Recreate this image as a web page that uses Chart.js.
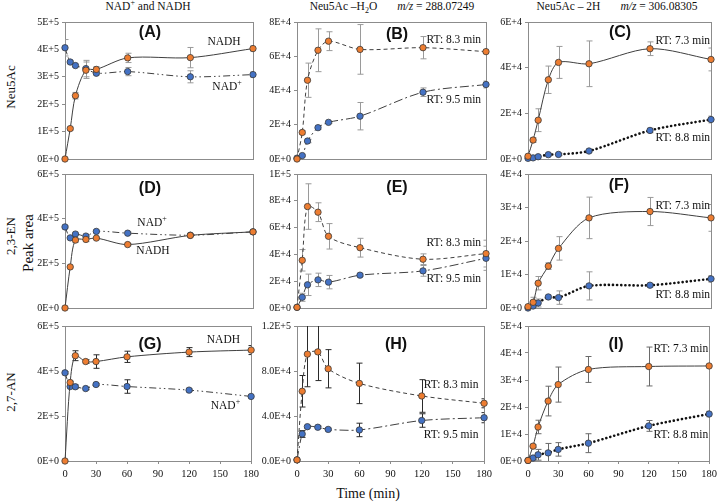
<!DOCTYPE html>
<html>
<head>
<meta charset="utf-8">
<script src="https://cdn.jsdelivr.net/npm/chart.js@4"></script>
<style>
  body { margin: 0; background: #fff; width: 720px; height: 503px; position: relative; overflow: hidden;
         font-family: "Liberation Serif", "Times New Roman", serif; color: #111; }
  .panel { position: absolute; }
  .txt { position: absolute; white-space: nowrap; }
  .coltitle { font-size: 11.5px; top: 0; transform: translateX(-50%); }
  .rowlab { font-size: 13px; transform: translate(-50%, -50%) rotate(-90deg); }
  sup, sub { font-size: 8px; line-height: 0; }
</style>
</head>
<body>

<div class="txt coltitle" style="left:148px">NAD<sup>+</sup> and NADH</div>
<div class="txt coltitle" style="left:392px">Neu5Ac –H<sub>2</sub>O<span style="margin-left:20px"><i>m/z</i> = 288.07249</span></div>
<div class="txt coltitle" style="left:617px">Neu5Ac – 2H<span style="margin-left:20px"><i>m/z</i> = 306.08305</span></div>

<div class="txt rowlab" style="left:11px; top:87px">Neu5Ac</div>
<div class="txt rowlab" style="left:11px; top:236px">2,3-EN</div>
<div class="txt rowlab" style="left:28px; top:243px; font-size:15px">Peak area</div>
<div class="txt rowlab" style="left:11px; top:392px">2,7-AN</div>

<div class="txt" style="left:368px; top:486px; transform:translateX(-50%); font-size:14px">Time (min)</div>

<script>
const times = [0, 5, 10, 20, 30, 60, 120, 180];

// (A) Neu5Ac – NAD+ and NADH
const aNadh    = [0, 1.11e5, 2.31e5, 3.24e5, 3.27e5, 3.69e5, 3.70e5, 4.03e5];
const aNadhErr = [0, 0.05e5, 0.12e5, 0.3e5, 0.1e5, 0.17e5, 0.37e5, 0.1e5];
const aNad     = [4.06e5, 3.54e5, 3.41e5, 3.30e5, 3.13e5, 3.19e5, 3.00e5, 3.08e5];
const aNadErr  = [0.3e5, 0.05e5, 0.05e5, 0.3e5, 0.06e5, 0.15e5, 0.22e5, 0.1e5];

// (B) Neu5Ac –H2O
const bRt83    = [0, 1.55e4, 4.6e4, 6.35e4, 6.88e4, 6.4e4, 6.5e4, 6.27e4];
const bRt83Err = [0, 0.1e4, 1.0e4, 1.25e4, 0.55e4, 1.45e4, 0.65e4, 0.1e4];
const bRt95    = [0.05e4, 0.2e4, 1.05e4, 1.83e4, 2.14e4, 2.5e4, 3.9e4, 4.35e4];
const bRt95Err = [0, 0.05e4, 0.1e4, 0.1e4, 0.05e4, 0.8e4, 0.25e4, 0.2e4];

// (C) Neu5Ac – 2H
const cRt73    = [0.12e4, 0.83e4, 1.7e4, 3.47e4, 4.23e4, 4.17e4, 4.83e4, 4.36e4];
const cRt73Err = [0, 0.1e4, 0.5e4, 0.6e4, 0.7e4, 1.0e4, 0.3e4, 0.5e4];
const cRt88    = [0.03e4, 0.05e4, 0.1e4, 0.19e4, 0.2e4, 0.35e4, 1.25e4, 1.73e4];
const cRt88Err = [0, 0, 0, 0.05e4, 0.05e4, 0.05e4, 0.1e4, 0.15e4];

// (D) 2,3-EN – NAD+ and NADH
const dNadh    = [0, 1.84e5, 3.04e5, 3.07e5, 3.13e5, 2.84e5, 3.25e5, 3.41e5];
const dNadhErr = [0, 0, 0.1e5, 0.1e5, 0.05e5, 0.05e5, 0.05e5, 0.05e5];
const dNad     = [3.63e5, 3.14e5, 3.31e5, 3.22e5, 3.43e5, 3.35e5, 3.26e5, 3.41e5];
const dNadErr  = [0.05e5, 0.05e5, 0.05e5, 0.05e5, 0.05e5, 0.05e5, 0.05e5, 0.05e5];

// (E) 2,3-EN –H2O
const eRt83    = [0.05e4, 3.56e4, 7.57e4, 7.15e4, 5.35e4, 4.5e4, 3.64e4, 4.06e4];
const eRt83Err = [0, 0.8e4, 1.7e4, 0.7e4, 0.95e4, 0.7e4, 0.4e4, 1.0e4];
const eRt95    = [0.05e4, 0.8e4, 1.73e4, 2.1e4, 1.93e4, 2.45e4, 2.77e4, 3.71e4];
const eRt95Err = [0, 0.3e4, 0.8e4, 0.5e4, 0.5e4, 0.1e4, 0.4e4, 0.9e4];

// (F) 2,3-EN – 2H
const fRt73    = [0.04e4, 0.17e4, 0.74e4, 1.25e4, 1.78e4, 2.69e4, 2.88e4, 2.69e4];
const fRt73Err = [0, 0.15e4, 0.2e4, 0.1e4, 0.35e4, 0.62e4, 0.42e4, 0.4e4];
const fRt88    = [0, 0.06e4, 0.15e4, 0.33e4, 0.31e4, 0.66e4, 0.68e4, 0.87e4];
const fRt88Err = [0, 0.15e4, 0.12e4, 0.05e4, 0.2e4, 0.42e4, 0.05e4, 0.1e4];

// (G) 2,7-AN – NAD+ and NADH
const gNadh    = [0, 3.49e5, 4.68e5, 4.42e5, 4.42e5, 4.63e5, 4.84e5, 4.93e5];
const gNadhErr = [0, 0.05e5, 0.22e5, 0.08e5, 0.3e5, 0.25e5, 0.2e5, 0.2e5];
const gNad     = [3.92e5, 3.31e5, 3.30e5, 3.22e5, 3.40e5, 3.31e5, 3.15e5, 2.87e5];
const gNadErr  = [0.05e5, 0.05e5, 0.08e5, 0.05e5, 0.05e5, 0.3e5, 0.05e5, 0.05e5];

// (H) 2,7-AN –H2O
const hRt83    = [0.1e4, 6.2e4, 9.5e4, 9.7e4, 8.2e4, 6.9e4, 5.78e4, 5.13e4];
const hRt83Err = [0, 1.4e4, 2.9e4, 2.55e4, 1.7e4, 1.8e4, 1.45e4, 0.4e4];
const hRt95    = [0.1e4, 2.4e4, 3.05e4, 3.0e4, 2.81e4, 2.76e4, 3.6e4, 3.85e4];
const hRt95Err = [0, 0.3e4, 0.1e4, 0.1e4, 0.1e4, 0.6e4, 0.6e4, 0.45e4];

// (I) 2,7-AN – 2H
const iRt73    = [0.02e4, 0.55e4, 1.26e4, 2.22e4, 2.83e4, 3.39e4, 3.5e4, 3.52e4];
const iRt73Err = [0, 0.05e4, 0.25e4, 0.55e4, 0.65e4, 0.48e4, 0.72e4, 0.05e4];
const iRt88    = [0.02e4, 0.11e4, 0.23e4, 0.3e4, 0.43e4, 0.66e4, 1.3e4, 1.74e4];
const iRt88Err = [0, 0.05e4, 0.2e4, 0.35e4, 0.25e4, 0.35e4, 0.2e4, 0.1e4];

const xTicks = [0, 30, 60, 90, 120, 150, 180];
const yMax   = [5e5, 8e4, 6e4, 6e5, 1e5, 4e4, 6e5, 1.2e5, 5e4];
const yStep  = [1e5, 2e4, 2e4, 2e5, 2e4, 1e4, 2e5, 4e4, 1e4];
const yDec   = [0, 0, 0, 0, 0, 0, 0, 1, 0];

// layout (page pixels of each plot area)
const colLeft = [65, 297, 528], colRight = [253, 486, 711];
const rowTop = [22, 174, 326], rowBottom = [159, 308, 461];
const AXW = 55, PAD = 10;

const ORANGE = '#ED7D31', BLUE = '#4472C4', LINE = '#3f3f3f';
const SERIF = '"Liberation Serif", "Times New Roman", serif';

const lineStyles = [
  { o: { dash: [], w: 1 }, b: { dash: [7, 3, 1.5, 3, 1.5, 3], w: 1 } },
  { o: { dash: [4, 3], w: 1 }, b: { dash: [9, 3, 2, 3], w: 1 } },
  { o: { dash: [], w: 1 }, b: { dash: [0.1, 4], w: 2.6, cap: 'round', color: '#111' } },
];

const panels = [
  { o: aNadh, oe: aNadhErr, b: aNad, be: aNadErr, err: '#9a9a9a', notes: [
    { t: '(A)', fx: .452, fy: .08, bold: true }, { t: 'NADH', fx: .846, fy: .146 }, { t: 'NAD', sup: '+', fx: .862, fy: .474 } ] },
  { o: bRt83, oe: bRt83Err, b: bRt95, be: bRt95Err, err: '#9a9a9a', notes: [
    { t: '(B)', fx: .529, fy: .095, bold: true }, { t: 'RT: 8.3 min', fx: .974, fy: .131, right: true }, { t: 'RT: 9.5 min', fx: .974, fy: .569, right: true } ] },
  { o: cRt73, oe: cRt73Err, b: cRt88, be: cRt88Err, err: '#9a9a9a', notes: [
    { t: '(C)', fx: .503, fy: .08, bold: true }, { t: 'RT: 7.3 min', fx: .995, fy: .139, right: true }, { t: 'RT: 8.8 min', fx: .995, fy: .847, right: true } ] },
  { o: dNadh, oe: dNadhErr, b: dNad, be: dNadErr, err: '#9a9a9a', notes: [
    { t: '(D)', fx: .452, fy: .112, bold: true }, { t: 'NAD', sup: '+', fx: .463, fy: .366 }, { t: 'NADH', fx: .468, fy: .575 } ] },
  { o: eRt83, oe: eRt83Err, b: eRt95, be: eRt95Err, err: '#9a9a9a', notes: [
    { t: '(E)', fx: .529, fy: .104, bold: true }, { t: 'RT: 8.3 min', fx: .974, fy: .515, right: true }, { t: 'RT: 9.5 min', fx: .974, fy: .784, right: true } ] },
  { o: fRt73, oe: fRt73Err, b: fRt88, be: fRt88Err, err: '#9a9a9a', notes: [
    { t: '(F)', fx: .497, fy: .09, bold: true }, { t: 'RT: 7.3 min', fx: .995, fy: .239, right: true }, { t: 'RT: 8.8 min', fx: .995, fy: .903, right: true } ] },
  { o: gNadh, oe: gNadhErr, b: gNad, be: gNadErr, err: '#2a2a2a', notes: [
    { t: '(G)', fx: .457, fy: .141, bold: true }, { t: 'NADH', fx: .851, fy: .104 }, { t: 'NAD', sup: '+', fx: .862, fy: .593 } ] },
  { o: hRt83, oe: hRt83Err, b: hRt95, be: hRt95Err, err: '#2a2a2a', notes: [
    { t: '(H)', fx: .529, fy: .141, bold: true }, { t: 'RT: 8.3 min', fx: .97, fy: .437, right: true }, { t: 'RT: 9.5 min', fx: .97, fy: .807, right: true } ] },
  { o: iRt73, oe: iRt73Err, b: iRt88, be: iRt88Err, err: '#6a6a6a', notes: [
    { t: '(I)', fx: .486, fy: .141, bold: true }, { t: 'RT: 7.3 min', fx: .995, fy: .17, right: true }, { t: 'RT: 8.8 min', fx: .995, fy: .807, right: true } ] },
];

// plot frame + error bars under the series, clipped to the plot area
const errorBars = {
  id: 'errorBars',
  beforeDatasetsDraw(chart, args, opts) {
    const { ctx, chartArea: a, scales: { x, y } } = chart;
    ctx.save();
    ctx.strokeStyle = '#8c8c8c';
    ctx.lineWidth = 1;
    ctx.strokeRect(Math.round(a.left) + 0.5, Math.round(a.top) + 0.5, Math.round(a.width), Math.round(a.height));
    ctx.beginPath();
    ctx.rect(a.left, a.top, a.width, a.height);
    ctx.clip();
    ctx.strokeStyle = opts.color;
    chart.data.datasets.forEach(ds => {
      ds.errors.forEach((e, i) => {
        if (!e) return;
        const px = Math.round(x.getPixelForValue(ds.data[i].x)) + 0.5;
        const v = ds.data[i].y;
        const top = y.getPixelForValue(v + e), bot = y.getPixelForValue(v - e);
        ctx.beginPath();
        ctx.moveTo(px, top); ctx.lineTo(px, bot);
        ctx.moveTo(px - 3, top); ctx.lineTo(px + 3, top);
        ctx.moveTo(px - 3, bot); ctx.lineTo(px + 3, bot);
        ctx.stroke();
      });
    });
    ctx.restore();
  }
};

const notesPlugin = {
  id: 'notes',
  afterDraw(chart, args, opts) {
    const { ctx, chartArea: a } = chart;
    const body = '11.5px ' + SERIF, small = '8px ' + SERIF;
    ctx.save();
    ctx.fillStyle = '#111';
    ctx.textBaseline = 'middle';
    ctx.textAlign = 'left';
    opts.items.forEach(n => {
      const px = a.left + n.fx * a.width, py = a.top + n.fy * a.height;
      ctx.font = n.bold ? 'bold 16px "Liberation Sans", Arial, sans-serif' : body;
      const w = ctx.measureText(n.t).width;
      let sw = 0;
      if (n.sup) { ctx.font = small; sw = ctx.measureText(n.sup).width; ctx.font = body; }
      const start = n.right ? px - w - sw : px - (w + sw) / 2;
      ctx.fillText(n.t, start, py);
      if (n.sup) {
        ctx.font = small;
        ctx.fillText(n.sup, start + w, py - 4);
      }
    });
    ctx.restore();
  }
};

panels.forEach((p, k) => {
  const col = k % 3, row = Math.floor(k / 3);
  const st = lineStyles[col];
  const bottomRow = row === 2;
  const xh = bottomRow ? 24 : PAD;
  const plotW = colRight[col] - colLeft[col], plotH = rowBottom[row] - rowTop[row];

  const div = document.createElement('div');
  div.className = 'panel';
  const W = plotW + AXW + PAD, H = plotH + PAD + xh;
  div.style.left = (colLeft[col] - AXW) + 'px';
  div.style.top = (rowTop[row] - PAD) + 'px';
  const cv = document.createElement('canvas');
  cv.width = W; cv.height = H;
  cv.style.width = W + 'px'; cv.style.height = H + 'px';
  div.appendChild(cv);
  document.body.appendChild(div);

  const mk = (vals, errs, fill, s) => ({
    data: times.map((t, i) => ({ x: t, y: vals[i] })),
    errors: errs,
    borderColor: s.color || LINE,
    borderWidth: s.w,
    borderDash: s.dash,
    borderCapStyle: s.cap || 'butt',
    tension: 0.3,
    pointRadius: 3.2,
    pointBorderWidth: 0.8,
    pointBorderColor: '#3a3a3a',
    pointBackgroundColor: fill,
    clip: false,
  });

  new Chart(cv, {
    type: 'line',
    data: { datasets: [mk(p.o, p.oe, ORANGE, st.o), mk(p.b, p.be, BLUE, st.b)] },
    options: {
      responsive: false,
      animation: false,
      devicePixelRatio: 1,
      layout: { padding: { top: PAD, right: PAD, left: 0, bottom: 0 } },
      plugins: {
        legend: { display: false },
        tooltip: { enabled: false },
        errorBars: { color: p.err },
        notes: { items: p.notes },
      },
      scales: {
        x: {
          type: 'linear', min: 0, max: 180,
          afterFit: s => { s.height = xh; },
          afterBuildTicks: s => { s.ticks = xTicks.map(v => ({ value: v })); },
          border: { display: false },
          grid: { display: bottomRow, drawOnChartArea: false, tickLength: 3, color: '#8c8c8c' },
          ticks: { display: bottomRow, padding: 4, color: '#111', font: { family: SERIF, size: 10.5 }, maxRotation: 0 },
        },
        y: {
          min: 0, max: yMax[k],
          afterFit: s => { s.width = AXW; },
          border: { display: false },
          grid: { drawOnChartArea: false, tickLength: 3, color: '#8c8c8c' },
          ticks: {
            stepSize: yStep[k], padding: 3, color: '#111',
            font: { family: SERIF, size: 10 },
            callback: v => Number(v).toExponential(yDec[k]).toUpperCase(),
          },
        },
      },
    },
    plugins: [errorBars, notesPlugin],
  });
});
</script>
</body>
</html>
